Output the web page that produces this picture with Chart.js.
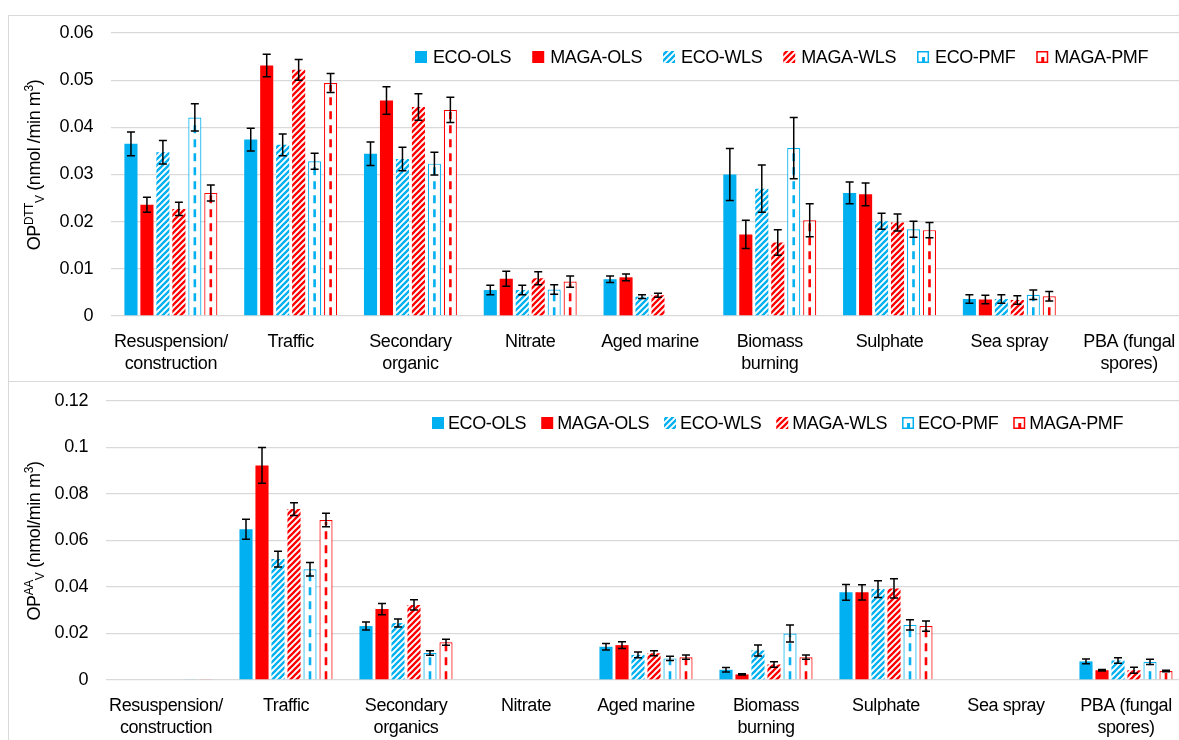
<!DOCTYPE html>
<html>
<head>
<meta charset="utf-8">
<script src="https://cdn.jsdelivr.net/npm/chart.js@4.4.1/dist/chart.umd.min.js"></script>
<style>
  body { margin: 0; width: 1179px; height: 740px; overflow: hidden; background: #fff; position: relative; }
  .panel { position: absolute; left: 8px; width: 1200px; border: 1px solid #d9d9d9; }
  canvas { position: absolute; left: 0; }
</style>
</head>
<body>
<div class="panel" style="top:15px; height:365px;"></div>
<div class="panel" style="top:381px; height:400px;"></div>
<canvas id="dttChart" width="1200" height="364" style="top:16px;"></canvas>
<canvas id="aaChart" width="1200" height="358" style="top:382px;"></canvas>
<script>
const seriesNames = ["ECO-OLS", "MAGA-OLS", "ECO-WLS", "MAGA-WLS", "ECO-PMF", "MAGA-PMF"];

const dttCategories = [["Resuspension/", "construction"], "Traffic", ["Secondary", "organic"], "Nitrate", "Aged marine", ["Biomass", "burning"], "Sulphate", "Sea spray", ["PBA (fungal", "spores)"]];
const aaCategories = [["Resuspension/", "construction"], "Traffic", ["Secondary", "organics"], "Nitrate", "Aged marine", ["Biomass", "burning"], "Sulphate", "Sea spray", ["PBA (fungal", "spores)"]];

const dttTicks = [0, 0.01, 0.02, 0.03, 0.04, 0.05, 0.06];
const aaTicks = [0, 0.02, 0.04, 0.06, 0.08, 0.1, 0.12];

// OP DTT (top panel)
const dttEcoOls = [0.0365, 0.0374, 0.0344, 0.0055, 0.0078, 0.0300, 0.0261, 0.0036, null];
const dttEcoOlsErr = [0.0025, 0.0024, 0.0025, 0.0010, 0.0007, 0.0055, 0.0023, 0.0009, null];
const dttMagaOls = [0.0236, 0.0531, 0.0457, 0.0079, 0.0082, 0.0173, 0.0258, 0.0035, null];
const dttMagaOlsErr = [0.0016, 0.0024, 0.0029, 0.0016, 0.0007, 0.0030, 0.0024, 0.0009, null];
const dttEcoWls = [0.0347, 0.0363, 0.0333, 0.0055, 0.0041, 0.0270, 0.0201, 0.0036, null];
const dttEcoWlsErr = [0.0025, 0.0023, 0.0025, 0.0010, 0.0004, 0.0050, 0.0017, 0.0009, null];
const dttMagaWls = [0.0227, 0.0522, 0.0443, 0.0080, 0.0044, 0.0156, 0.0198, 0.0034, null];
const dttMagaWlsErr = [0.0014, 0.0022, 0.0028, 0.0014, 0.0004, 0.0027, 0.0018, 0.0009, null];
const dttEcoPmf = [0.0421, 0.0328, 0.0323, 0.0056, 0, 0.0356, 0.0184, 0.0045, null];
const dttEcoPmfErr = [0.0029, 0.0017, 0.0024, 0.0010, null, 0.0065, 0.0017, 0.0010, null];
const dttMagaPmf = [0.0261, 0.0494, 0.0437, 0.0073, 0, 0.0203, 0.0182, 0.0042, null];
const dttMagaPmfErr = [0.0017, 0.0020, 0.0027, 0.0012, null, 0.0035, 0.0016, 0.0010, null];

// OP AA (bottom panel)
const aaEcoOls = [null, 0.0648, 0.0232, null, 0.0143, 0.0044, 0.0377, null, 0.0080];
const aaEcoOlsErr = [null, 0.0043, 0.0017, null, 0.0014, 0.0010, 0.0034, null, 0.0010];
const aaMagaOls = [null, 0.0923, 0.0305, null, 0.0150, 0.0024, 0.0377, null, 0.0042];
const aaMagaOlsErr = [null, 0.0077, 0.0024, null, 0.0014, 0.0003, 0.0033, null, 0.0003];
const aaEcoWls = [null, 0.0520, 0.0245, null, 0.0108, 0.0127, 0.0391, null, 0.0084];
const aaEcoWlsErr = [null, 0.0034, 0.0017, null, 0.0012, 0.0024, 0.0036, null, 0.0012];
const aaMagaWls = [null, 0.0735, 0.0323, null, 0.0115, 0.0067, 0.0394, null, 0.0042];
const aaMagaWlsErr = [null, 0.0027, 0.0022, null, 0.0011, 0.0012, 0.0041, null, 0.0013];
const aaEcoPmf = [0.0004, 0.0476, 0.0116, null, 0.0093, 0.0200, 0.0237, null, 0.0078];
const aaEcoPmfErr = [null, 0.0029, 0.0010, null, 0.0009, 0.0037, 0.0022, null, 0.0011];
const aaMagaPmf = [0.0004, 0.0688, 0.0162, null, 0.0098, 0.0098, 0.0232, null, 0.0039];
const aaMagaPmfErr = [null, 0.0029, 0.0013, null, 0.0009, 0.0009, 0.0022, null, 0.0003];

const BLUE = "#00b0f0";
const RED = "#ff0000";
const seriesColors = [BLUE, RED, BLUE, RED, BLUE, RED];
const seriesKinds = ["solid", "solid", "stripe", "stripe", "pmf", "pmf"];
const FONT = "'Liberation Sans', Arial, sans-serif";

Chart.defaults.font.family = FONT;
Chart.defaults.font.size = 18;
Chart.defaults.color = "#000";

function stripePattern(color) {
    const c = document.createElement("canvas");
    c.width = 6;
    c.height = 6;
    const g = c.getContext("2d");
    g.fillStyle = "#fff";
    g.fillRect(0, 0, 6, 6);
    g.strokeStyle = color;
    g.lineWidth = 2.3;
    g.beginPath();
    g.moveTo(0, 6); g.lineTo(6, 0);
    g.moveTo(-3, 3); g.lineTo(3, -3);
    g.moveTo(3, 9); g.lineTo(9, 3);
    g.stroke();
    return g.createPattern(c, "repeat");
}

const patterns = { [BLUE]: stripePattern(BLUE), [RED]: stripePattern(RED) };

function makeDataset(i, values) {
    const kind = seriesKinds[i];
    const color = seriesColors[i];
    return {
        label: seriesNames[i],
        data: values,
        kind: kind,
        color: color,
        backgroundColor: kind === "solid" ? color : kind === "stripe" ? patterns[color] : "#fff",
        borderColor: color,
        borderWidth: kind === "pmf" ? 1.2 : 0,
        categoryPercentage: 0.8,
        barPercentage: 0.82
    };
}

// tighter tracking, closer to the original's narrow type
const tightText = {
    id: "tightText",
    beforeLayout(chart) { chart.ctx.letterSpacing = "-0.4px"; },
    beforeDraw(chart) { chart.ctx.letterSpacing = "-0.4px"; }
};

// dashed center line of PMF bars + error bars
const barExtras = {
    id: "barExtras",
    afterDatasetsDraw(chart) {
        const ctx = chart.ctx;
        const yScale = chart.scales.y;
        const errs = chart.options.plugins.barExtras.errors;
        ctx.save();
        chart.data.datasets.forEach((ds, i) => {
            if (ds.kind !== "pmf") return;
            chart.getDatasetMeta(i).data.forEach((el, j) => {
                const v = ds.data[j];
                if (v == null || v < 0.0005) return;
                ctx.strokeStyle = ds.color;
                ctx.lineWidth = 2.6;
                ctx.setLineDash([8, 6]);
                ctx.beginPath();
                ctx.moveTo(el.x, el.base);
                ctx.lineTo(el.x, el.y + 2);
                ctx.stroke();
                ctx.setLineDash([]);
            });
        });
        chart.data.datasets.forEach((ds, i) => {
            chart.getDatasetMeta(i).data.forEach((el, j) => {
                const v = ds.data[j];
                const e = errs[i][j];
                if (v == null || e == null) return;
                const top = yScale.getPixelForValue(v + e);
                const bot = yScale.getPixelForValue(v - e);
                ctx.strokeStyle = "#000";
                ctx.lineWidth = 1.5;
                ctx.beginPath();
                ctx.moveTo(el.x, top); ctx.lineTo(el.x, bot);
                ctx.moveTo(el.x - 4, top); ctx.lineTo(el.x + 4, top);
                ctx.moveTo(el.x - 4, bot); ctx.lineTo(el.x + 4, bot);
                ctx.stroke();
            });
        });
        ctx.restore();
    }
};

function drawSwatch(ctx, ds, x, y) {
    const s = 12;
    if (ds.kind === "pmf") {
        ctx.fillStyle = "#fff";
        ctx.fillRect(x, y, s, s);
        ctx.strokeStyle = ds.color;
        ctx.lineWidth = 1.5;
        ctx.strokeRect(x + 0.75, y + 0.75, s - 1.5, s - 1.5);
        ctx.fillStyle = ds.color;
        ctx.fillRect(x + 5, y + 6, 3, 5);
    } else {
        ctx.fillStyle = ds.backgroundColor;
        ctx.fillRect(x, y, s, s);
    }
}

const legendAndTitle = {
    id: "legendAndTitle",
    afterDraw(chart) {
        const ctx = chart.ctx;
        const o = chart.options.plugins.legendAndTitle;
        ctx.save();
        ctx.font = "18px " + FONT;
        ctx.textBaseline = "middle";
        let x = o.legendX;
        chart.data.datasets.forEach(ds => {
            drawSwatch(ctx, ds, x, o.legendY - 6);
            x += o.textOffset;
            ctx.fillStyle = "#000";
            ctx.fillText(ds.label, x, o.legendY + 1);
            x += ctx.measureText(ds.label).width + o.gap;
        });

        // rotated y axis title with super/subscripts
        ctx.translate(o.titleX, o.titleY);
        ctx.rotate(-Math.PI / 2);
        ctx.textBaseline = "alphabetic";
        const parts = o.title;
        let w = 0;
        parts.forEach(p => {
            ctx.font = (p.small ? 12 : 18) + "px " + FONT;
            w += ctx.measureText(p.t).width;
        });
        let px = -w / 2;
        parts.forEach(p => {
            ctx.font = (p.small ? 12 : 18) + "px " + FONT;
            ctx.fillText(p.t, px, p.dy || 0);
            px += ctx.measureText(p.t).width;
        });
        ctx.restore();
    }
};

function makeChart(id, categories, values, errors, ticks, cfg) {
    return new Chart(document.getElementById(id), {
        type: "bar",
        data: {
            labels: categories,
            datasets: values.map((v, i) => makeDataset(i, v))
        },
        options: {
            responsive: false,
            animation: false,
            layout: { padding: { left: 0, right: cfg.padRight, top: cfg.padTop, bottom: 0 } },
            plugins: {
                legend: { display: false },
                tooltip: { enabled: false },
                barExtras: { errors: errors },
                legendAndTitle: cfg.legend
            },
            scales: {
                x: {
                    grid: { display: false },
                    border: { display: false },
                    ticks: { maxRotation: 0, autoSkip: false, padding: cfg.xPad, font: { size: 18, lineHeight: 1.22 } },
                    afterFit: s => { s.height = cfg.xHeight; }
                },
                y: {
                    min: 0,
                    max: ticks[ticks.length - 1],
                    afterBuildTicks: s => { s.ticks = ticks.map(v => ({ value: v })); },
                    grid: { color: "#d9d9d9", lineWidth: 1.3, drawTicks: false },
                    border: { display: false },
                    ticks: { padding: 18, callback: v => String(v), font: { size: 18 } },
                    afterFit: s => {
                        s.width = cfg.yWidth;
                        s.paddingTop = 0;
                        s.paddingBottom = 0;
                    }
                }
            }
        },
        plugins: [tightText, barExtras, legendAndTitle]
    });
}

document.addEventListener("DOMContentLoaded", function () {
    makeChart("dttChart", dttCategories,
        [dttEcoOls, dttMagaOls, dttEcoWls, dttMagaWls, dttEcoPmf, dttMagaPmf],
        [dttEcoOlsErr, dttMagaOlsErr, dttEcoWlsErr, dttMagaWlsErr, dttEcoPmfErr, dttMagaPmfErr],
        dttTicks,
        {
            padRight: 11, padTop: 17, yWidth: 111, xHeight: 64, xPad: 7,
            legend: {
                legendX: 415, legendY: 41, textOffset: 18, gap: 21,
                titleX: 40, titleY: 149,
                title: [{ t: "OP" }, { t: "DTT", small: true, dy: -7 }, { t: "V", small: true, dy: 4 }, { t: " (nmol /min m" }, { t: "3", small: true, dy: -7 }, { t: ")" }]
            }
        });
    makeChart("aaChart", aaCategories,
        [aaEcoOls, aaMagaOls, aaEcoWls, aaMagaWls, aaEcoPmf, aaMagaPmf],
        [aaEcoOlsErr, aaMagaOlsErr, aaEcoWlsErr, aaMagaWlsErr, aaEcoPmfErr, aaMagaPmfErr],
        aaTicks,
        {
            padRight: 14, padTop: 19, yWidth: 106, xHeight: 60, xPad: 7,
            legend: {
                legendX: 432, legendY: 41, textOffset: 16, gap: 15,
                titleX: 40, titleY: 159,
                title: [{ t: "OP" }, { t: "AA", small: true, dy: -7 }, { t: "V", small: true, dy: 4 }, { t: " (nmol/min m" }, { t: "3", small: true, dy: -7 }, { t: ")" }]
            }
        });
});
</script>
</body>
</html>
